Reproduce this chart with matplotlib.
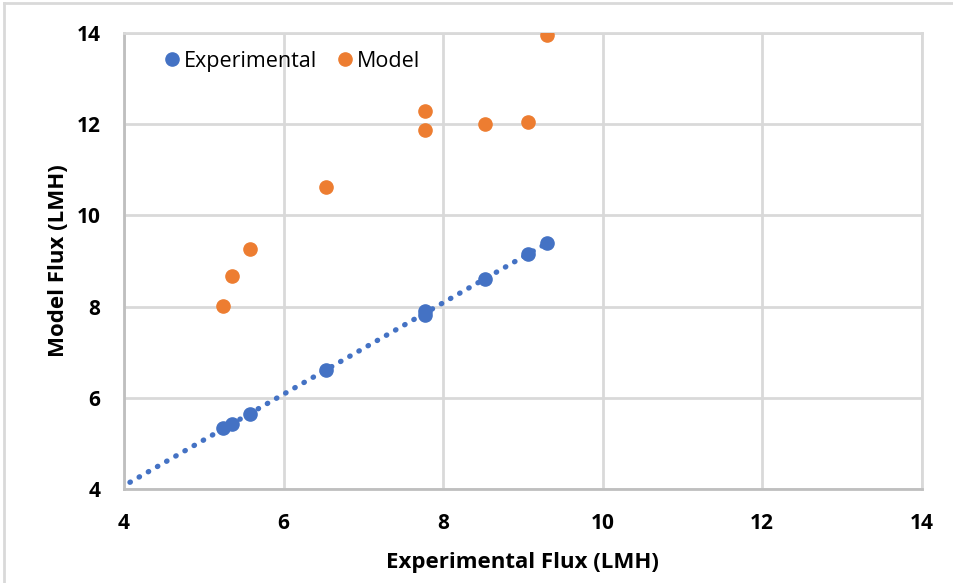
import matplotlib.pyplot as plt
import numpy as np
from matplotlib.lines import Line2D

plt.rcParams['font.family'] = ['Open Sans', 'DejaVu Sans']

# measured flux values (LMH)
exp_flux = [5.24, 5.35, 5.58, 6.53, 7.78, 7.78, 8.52, 9.07, 9.30]
exp_model = [5.34, 5.42, 5.65, 6.60, 7.90, 7.82, 8.61, 9.15, 9.39]
model_flux = [8.01, 8.67, 9.26, 10.62, 12.29, 11.87, 11.99, 12.05, 13.95]

blue = '#4472C4'
orange = '#ED7D31'
grid_col = '#D9D9D9'

fig = plt.figure(figsize=(9.54, 5.83), dpi=100)
ax = fig.add_axes([0.130, 0.161, 0.836, 0.783])

# linear trendline through the experimental series, extended back to the axis
slope, icpt = np.polyfit(exp_flux, exp_model, 1)
xt = np.array([3.5, max(exp_flux)])
ax.plot(xt, slope * xt + icpt, linestyle=(0, (0.1, 1.9)), color=blue,
        lw=3.8, dash_capstyle='round', zorder=2)

ax.plot(exp_flux, exp_model, 'o', color=blue, ms=9.5, zorder=3)
ax.plot(exp_flux, model_flux, 'o', color=orange, ms=9.5, zorder=3)

ax.set_xlim(4, 14)
ax.set_ylim(4, 14)
ax.set_xticks(range(4, 15, 2))
ax.set_yticks(range(4, 15, 2))
ax.grid(True, color=grid_col, lw=2)
ax.set_axisbelow(True)
for s in ax.spines.values():
    s.set_color(grid_col)
    s.set_linewidth(2)
ax.spines['left'].set_color('#BFBFBF')
ax.spines['bottom'].set_color('#BFBFBF')
ax.tick_params(length=0, labelsize=15, pad=17)
for lab in ax.get_xticklabels() + ax.get_yticklabels():
    lab.set_fontweight('bold')

ax.set_xlabel('Experimental Flux (LMH)', fontsize=16, fontweight='bold', labelpad=13)
ax.set_ylabel('Model Flux (LMH)', fontsize=16, fontweight='bold', labelpad=5)

handles = [Line2D([], [], marker='o', ls='', color=blue, ms=9.5),
           Line2D([], [], marker='o', ls='', color=orange, ms=9.5)]
ax.legend(handles, ['Experimental', 'Model'], loc='upper left',
          bbox_to_anchor=(0.022, 1.003), ncol=2, frameon=False, fontsize=15.5,
          handletextpad=0.05, columnspacing=0.8, handlelength=1.0)

# chart area border (top and left edges)
fig.add_artist(Line2D([0.004, 1], [0.995, 0.995], color=grid_col, lw=2))
fig.add_artist(Line2D([0.004, 0.004], [0, 0.995], color=grid_col, lw=2))

fig.savefig('out.png', dpi=100)
